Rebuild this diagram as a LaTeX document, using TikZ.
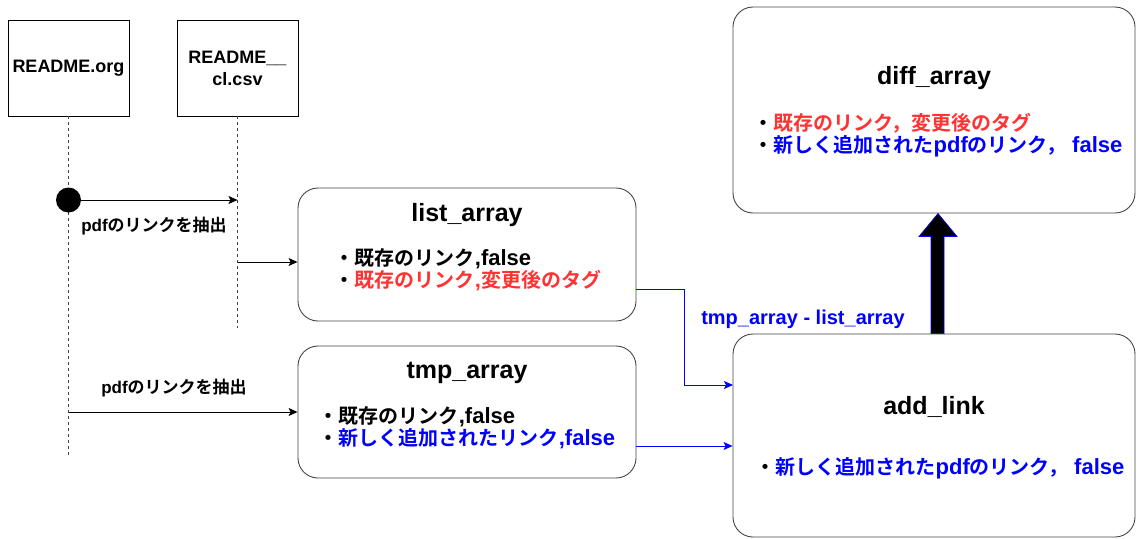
\documentclass[tikz,border=0pt]{standalone}
\usepackage{fontspec}
\setmainfont{Liberation Sans}
\newfontfamily\jp{Noto Sans CJK JP}[BoldFont={* Bold}]
\usetikzlibrary{arrows.meta,calc}
\definecolor{myred}{HTML}{FF3333}
\definecolor{myblue}{HTML}{0000FF}
\definecolor{edge}{HTML}{444444}
\newcommand\J[2][20]{{\jp\fontsize{#1}{22}\selectfont #2}}
\begin{document}
\begin{tikzpicture}[x=1pt,y=-1pt,
  lifebox/.style={draw=black, line width=0.9pt, minimum width=121pt, minimum height=96pt,
    inner sep=0pt, align=center, font=\bfseries\fontsize{18}{24}\selectfont},
  arrbox/.style={draw=edge, line width=0.9pt, rounded corners=20pt, inner sep=0pt},
  title/.style={font=\bfseries\fontsize{25}{26}\selectfont, inner sep=0pt},
  bullets/.style={font=\bfseries\fontsize{22}{22}\selectfont, align=left, inner sep=0pt},
  lbl/.style={font=\bfseries\fontsize{17}{20}\selectfont, inner sep=0pt},
  lifeline/.style={draw=edge, line width=0.8pt, dash pattern=on 3pt off 3pt},
  blackarr/.style={draw=black, line width=0.9pt, -{Stealth[length=9pt,width=8pt,inset=2pt]}},
  bluearr/.style={draw=myblue, line width=0.9pt, -{Stealth[length=9pt,width=8pt,inset=2pt]}}
]
\useasboundingbox (0,0) rectangle (1137,538);

% lifeline boxes
\node[lifebox] (readme) at (68.5,68) {README.org};
\node[lifebox] (csv) at (237.5,68) {README\_\_\\[-2pt]cl.csv};

\coordinate (l1end) at (68.5,455);
\coordinate (l2end) at (237.5,328);
\draw[lifeline] (readme.south) -- (l1end);
\draw[lifeline] (csv.south) -- (l2end);

% boxes
\node[arrbox, minimum width=338pt, minimum height=133pt] (list) at (467,254.5) {};
\node[arrbox, minimum width=338pt, minimum height=132pt] (tmp) at (467,412) {};
\node[arrbox, minimum width=402pt, minimum height=206pt] (diff) at (934,110) {};
\node[arrbox, minimum width=402pt, minimum height=203pt] (add) at (934,435.5) {};

% titles
\node[title] (listT) at (467,215) {list\_array};
\node[title] (tmpT) at (467,373) {tmp\_array};
\node[title] (diffT) at (934,78) {diff\_array};
\node[title] (addT) at (934,407) {add\_link};

% bullets
\node[bullets] (listB) at (468,270) {\J{・既存のリンク},false\\
  \J{・}\textcolor{myred}{\J{既存のリンク},\J{変更後のタグ}}};
\node[bullets] (tmpB) at (467,428) {\J{・既存のリンク},false\\
  \J{・}\textcolor{myblue}{\J{新しく追加されたリンク},false}};
\node[bullets] (diffB) at (938,135) {\J{・}\textcolor{myred}{\J{既存のリンク，変更後のタグ}}\\
  \J{・}\textcolor{myblue}{\J{新しく追加された}pdf\J{のリンク，} false}};
\node[bullets] (addB) at (940,468) {\J{・}\textcolor{myblue}{\J{新しく追加された}pdf\J{のリンク，} false}};

% start dot and arrows
\node[circle, fill=black, minimum size=25pt, inner sep=0pt] (dot) at (68.5,200) {};
\coordinate (c1) at (237.5,200);
\draw[blackarr] (dot.east) -- (c1);
\node[lbl] (lab1) at (154,226) {pdf\J[17]{のリンクを抽出}};

\coordinate (c2) at (237.5,262);
\draw[blackarr] (c2) -- (c2 -| list.west);

\coordinate (c3) at (68.5,412);
\draw[blackarr] (c3) -- (c3 -| tmp.west);
\node[lbl] (lab2) at (174,388) {pdf\J[17]{のリンクを抽出}};

% blue connectors
\coordinate (b1) at (636,289);
\coordinate (b1turn) at (684,289);
\coordinate (b1in) at (733,385);
\draw[bluearr] (b1) -- (b1turn) |- (b1in);
\coordinate (b2) at (636,446);
\draw[bluearr] (b2) -- (b2 -| add.west);
\node[font=\bfseries\fontsize{20}{22}\selectfont, text=myblue, inner sep=0pt] (diffl) at (803,319) {tmp\_array - list\_array};

% thick arrow add -> diff
\draw[fill=black, draw=myblue, line width=0.6pt]
  ($(add.north)+(-3,0)$) -- ($(diff.south)+(-3,23)$) -- ($(diff.south)+(-15,23)$) --
  ($(diff.south)+(4,0)$) -- ($(diff.south)+(23,23)$) -- ($(diff.south)+(10,23)$) --
  ($(add.north)+(10,0)$) -- cycle;
\end{tikzpicture}
\end{document}
